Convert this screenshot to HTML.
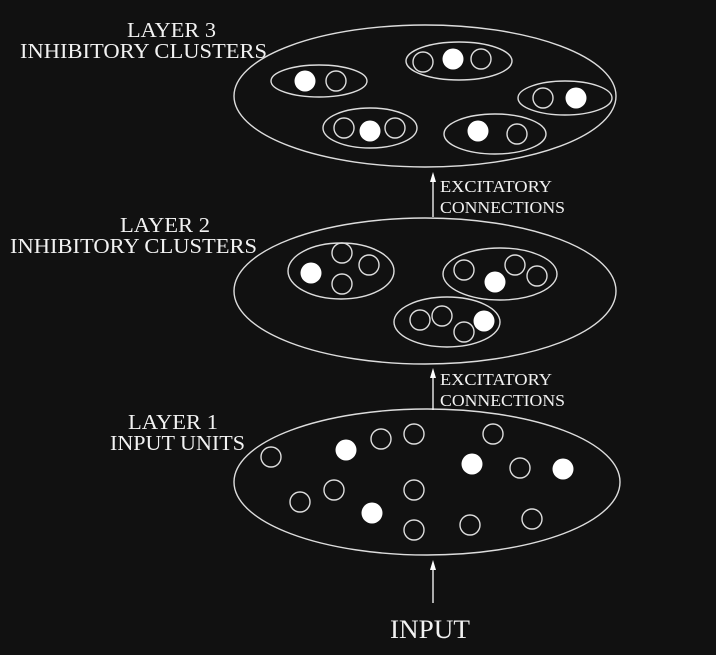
<!DOCTYPE html>
<html><head><meta charset="utf-8"><style>
html,body{margin:0;padding:0;background:#111;}
svg{display:block;}
text{font-family:"Liberation Serif",serif;fill:#f2f2f2;}
</style></head><body>
<svg width="716" height="655" viewBox="0 0 716 655">
<g fill="none" stroke="#ddd" stroke-width="1.4">
<ellipse cx="425" cy="96" rx="191" ry="71"/>
<ellipse cx="425" cy="291" rx="191" ry="73"/>
<ellipse cx="427" cy="482" rx="193" ry="73"/>
</g>
<g id="nodes" stroke="#ddd" stroke-width="1.4"></g>
<g stroke="#fff" stroke-width="1.3" fill="#fff">
<line x1="433" y1="217" x2="433" y2="178"/>
<path d="M430,182 L433,172 L436,182 Z" stroke="none"/>
<line x1="433" y1="410" x2="433" y2="374"/>
<path d="M430,378 L433,368 L436,378 Z" stroke="none"/>
<line x1="433" y1="603" x2="433" y2="566"/>
<path d="M430,570 L433,560 L436,570 Z" stroke="none"/>
</g>
<text x="127" y="37" font-size="21" textLength="89" lengthAdjust="spacingAndGlyphs">LAYER 3</text>
<text x="20" y="58" font-size="21" textLength="247" lengthAdjust="spacingAndGlyphs">INHIBITORY CLUSTERS</text>
<text x="120" y="232" font-size="21" textLength="90" lengthAdjust="spacingAndGlyphs">LAYER 2</text>
<text x="10" y="253" font-size="21" textLength="247" lengthAdjust="spacingAndGlyphs">INHIBITORY CLUSTERS</text>
<text x="128" y="429" font-size="21" textLength="90" lengthAdjust="spacingAndGlyphs">LAYER 1</text>
<text x="110" y="450" font-size="21" textLength="135" lengthAdjust="spacingAndGlyphs">INPUT UNITS</text>
<text x="440" y="192" font-size="17" textLength="112" lengthAdjust="spacingAndGlyphs">EXCITATORY</text>
<text x="440" y="213" font-size="17" textLength="125" lengthAdjust="spacingAndGlyphs">CONNECTIONS</text>
<text x="440" y="385" font-size="17" textLength="112" lengthAdjust="spacingAndGlyphs">EXCITATORY</text>
<text x="440" y="406" font-size="17" textLength="125" lengthAdjust="spacingAndGlyphs">CONNECTIONS</text>
<text x="390" y="638" font-size="26" textLength="80" lengthAdjust="spacingAndGlyphs">INPUT</text>
</svg>
<script>
const clusters=[[319,81,48,16],[459,61,53,19],[565,98,47,17],[370,128,47,20],[495,134,51,20],
[341,271,53,28],[500,274,57,26],[447,322,53,25]];
const hollowUnits=[[336,81],[423,62],[481,59],[543,98],[344,128],[395,128],[517,134],
[342,253],[342,284],[369,265],[464,270],[515,265],[537,276],[420,320],[442,316],[464,332],
[271,457],[381,439],[414,434],[493,434],[520,468],[300,502],[334,490],[414,490],[414,530],[470,525],[532,519]];
const activeUnits=[[305,81],[453,59],[576,98],[370,131],[478,131],[311,273],[495,282],[484,321],
[346,450],[472,464],[563,469],[372,513]];
const g=document.getElementById('nodes');
const NS='http://www.w3.org/2000/svg';
clusters.forEach(c=>{const e=document.createElementNS(NS,'ellipse');


e.setAttribute('cx',c[0]);e.setAttribute('cy',c[1]);e.setAttribute('rx',c[2]);e.setAttribute('ry',c[3]);e.setAttribute('fill','none');g.appendChild(e);});
hollowUnits.forEach(p=>{const e=document.createElementNS(NS,'circle');


e.setAttribute('cx',p[0]);e.setAttribute('cy',p[1]);e.setAttribute('r',10);e.setAttribute('fill','none');g.appendChild(e);});
activeUnits.forEach(p=>{const e=document.createElementNS(NS,'circle');


e.setAttribute('cx',p[0]);e.setAttribute('cy',p[1]);e.setAttribute('r',10.5);e.setAttribute('fill','#fff');e.setAttribute('stroke','none');g.appendChild(e);});
</script>
</body></html>
